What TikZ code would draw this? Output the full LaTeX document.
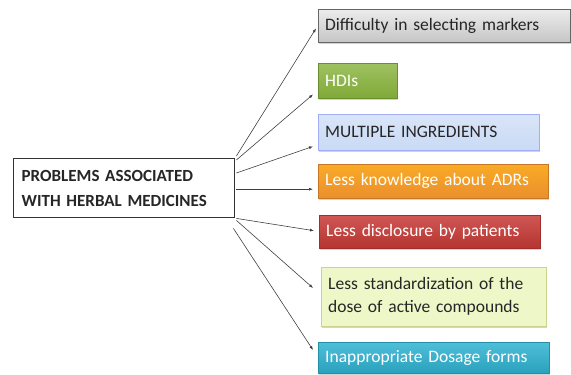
\documentclass[tikz,border=0pt]{standalone}
\usepackage{fontspec}
\setmainfont{Carlito}
\usetikzlibrary{calc,shadows,arrows.meta}
\begin{document}
\begin{tikzpicture}[x=1pt,y=-1pt,
  item/.style={draw=#1!80!black, anchor=north west, inner xsep=7pt, inner ysep=0pt, align=left,
    font=\fontsize{17.5}{21}\selectfont, drop shadow={opacity=0.35, shadow xshift=1.2pt, shadow yshift=-1.5pt}},
  conn/.style={draw=black!75, line width=0.6pt, -{Latex[length=4pt,width=3pt]}}]
\useasboundingbox (0,0) rectangle (571,375);
\definecolor{cgray}{HTML}{D4D4D4}
\definecolor{cgreen}{HTML}{86B23A}
\definecolor{cblue}{HTML}{C9DAF5}
\definecolor{corange}{HTML}{F7962F}
\definecolor{cred}{HTML}{C83A36}
\definecolor{cyellow}{HTML}{EEF7C8}
\definecolor{ccyan}{HTML}{2FB3D2}
\node[draw=black!80, line width=1.4pt, fill=white, anchor=north west, minimum width=221pt, minimum height=59pt,
  text width=205pt, align=left, inner xsep=8pt, font=\bfseries\fontsize{17}{25}\selectfont, text=black!85] (main) at (13,158)
  {PROBLEMS ASSOCIATED\\WITH HERBAL MEDICINES};
\node[item=gray, top color=gray!15, bottom color=gray!45, minimum width=252pt, minimum height=33pt, text width=238pt, text=black!85] (b1) at (318,9) {Difficulty in selecting markers};
\node[item=cgreen, top color=cgreen!80, bottom color=cgreen!95!black, minimum width=79pt, minimum height=35pt, text width=65pt, text=white] (b2) at (318,63) {HDIs};
\node[item=cblue, top color=cblue!70, bottom color=cblue, draw=cblue!80!blue, minimum width=221pt, minimum height=36pt, text width=207pt, text=black!85] (b3) at (318,114) {MULTIPLE INGREDIENTS};
\node[item=corange, top color=corange!80!yellow, bottom color=corange!95!black, minimum width=230pt, minimum height=34pt, text width=216pt, text=white] (b4) at (318,164) {Less knowledge about ADRs};
\node[item=cred, top color=cred!85!white, bottom color=cred!90!black, minimum width=221pt, minimum height=33pt, text width=207pt, text=white] (b5) at (319,215) {Less disclosure by patients};
\node[item=cyellow, fill=cyellow, draw=cyellow!70!olive, minimum width=225pt, minimum height=59pt, text width=211pt, text=black!85, font=\fontsize{17.5}{23}\selectfont] (b6) at (321,267) {Less standardization of the\\dose of active compounds};
\node[item=ccyan, top color=ccyan!85!white, bottom color=ccyan!90!black, minimum width=231pt, minimum height=31pt, text width=217pt, text=white] (b7) at (318,342) {Inappropriate Dosage forms};
\draw[conn] ($(main.north east)+(1,-2)$) -- ($(b1.south west)+(-2,-14)$);
\draw[conn] ($(main.north east)+(1,2)$) -- ($(b2.south west)+(-5,-4)$);
\draw[conn] ($(main.north east)+(1,15)$) -- ($(b3.south west)+(-5,-4)$);
\draw[conn] ($(main.east)+(1,1)$) -- ($(b4.west)+(-5,8)$);
\draw[conn] ($(main.south east)+(1,0)$) -- ($(b5.west)+(-5,-1)$);
\draw[conn] ($(main.south east)+(1,2)$) -- ($(b6.north west)+(-8,21)$);
\draw[conn] ($(main.south east)+(-2,10)$) -- ($(b7.north west)+(-5,8)$);
\end{tikzpicture}
\end{document}
